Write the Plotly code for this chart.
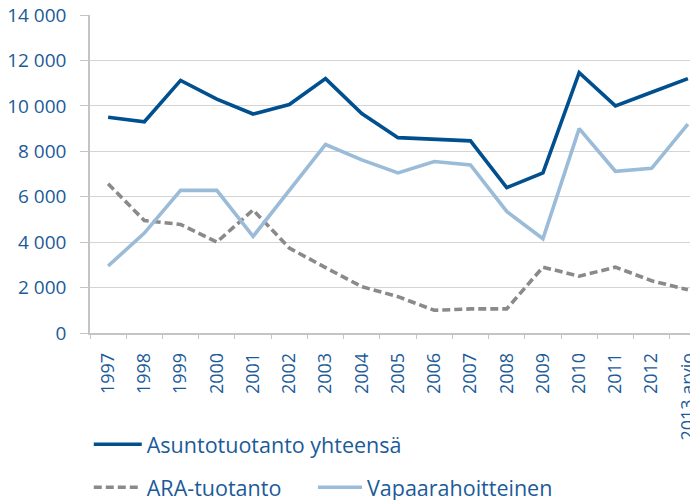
import plotly.graph_objects as go

years = ["1997", "1998", "1999", "2000", "2001", "2002", "2003", "2004", "2005",
         "2006", "2007", "2008", "2009", "2010", "2011", "2012", "2013 arvio"]
total = [9500, 9300, 11120, 10300, 9640, 10060, 11200, 9660, 8600,
         8520, 8460, 6400, 7050, 11460, 10000, 10600, 11200]
ara = [6570, 4950, 4780, 4000, 5420, 3740, 2880, 2040, 1600,
       1000, 1060, 1060, 2900, 2500, 2900, 2300, 1900]
vapaa = [2950, 4400, 6280, 6280, 4250, 6250, 8300, 7620, 7050,
         7550, 7400, 5350, 4150, 9000, 7120, 7250, 9200]
names = ["Asuntotuotanto yhteensä", "ARA-tuotanto", "Vapaarahoitteinen"]
yticks = [0, 2000, 4000, 6000, 8000, 10000, 12000, 14000]

DARK = "#00508f"
LIGHT = "#9abcd8"
GRAY = "#8a8a8a"
TXT = "#1b5b98"
FONT = "Open Sans"

fig = go.Figure()
fig.add_trace(go.Scatter(x=years, y=total, name=names[0], mode="lines",
                         line=dict(color=DARK, width=3.6), legend="legend"))
fig.add_trace(go.Scatter(x=years, y=ara, name=names[1], mode="lines",
                         line=dict(color=GRAY, width=3.6, dash="8px,4px"),
                         legend="legend2"))
fig.add_trace(go.Scatter(x=years, y=vapaa, name=names[2], mode="lines",
                         line=dict(color=LIGHT, width=3.6), legend="legend3"))

legfont = dict(size=21.5, color=TXT, family=FONT)
fig.update_layout(
    width=698, height=500,
    margin=dict(l=82, r=0, t=7, b=174.5, autoexpand=False),
    paper_bgcolor="white", plot_bgcolor="white",
    separators=", ",
    font=dict(family=FONT, color=TXT, size=18),
    showlegend=True,
    legend=dict(orientation="v", x=-0.002, xanchor="left", y=-0.35, yanchor="middle",
                itemwidth=48, font=legfont, bgcolor="rgba(0,0,0,0)"),
    legend2=dict(orientation="v", x=-0.002, xanchor="left", y=-0.485, yanchor="middle",
                 itemwidth=48, font=legfont, bgcolor="rgba(0,0,0,0)"),
    legend3=dict(orientation="v", x=0.362, xanchor="left", y=-0.485, yanchor="middle",
                 itemwidth=44, font=legfont, bgcolor="rgba(0,0,0,0)"),
)

fig.update_xaxes(
    type="category", range=[-0.5, 16.5], tickson="boundaries",
    tickmode="linear", dtick=1, automargin=False,
    ticks="outside", ticklen=4, tickcolor="#c4c4c4", tickwidth=1.3,
    showline=True, linecolor="#c4c4c4", linewidth=1.5,
    showgrid=False, tickangle=-90, ticklabelstandoff=11,
    ticklabeloverflow="allow",
    tickfont=dict(size=18, color=TXT, family=FONT),
)
fig.update_yaxes(
    range=[0, 14000], tickvals=yticks, tickformat=",d", automargin=False,
    ticks="outside", ticklen=8, tickcolor="#c4c4c4", tickwidth=1.3,
    showline=True, linecolor="#c4c4c4", linewidth=1.5,
    showgrid=True, gridcolor="#d4d4d4", gridwidth=1.3, zeroline=False,
    ticklabelstandoff=10, ticklabeloverflow="allow",
    tickfont=dict(size=19, color=TXT, family=FONT),
)

fig.write_html("out.html")
